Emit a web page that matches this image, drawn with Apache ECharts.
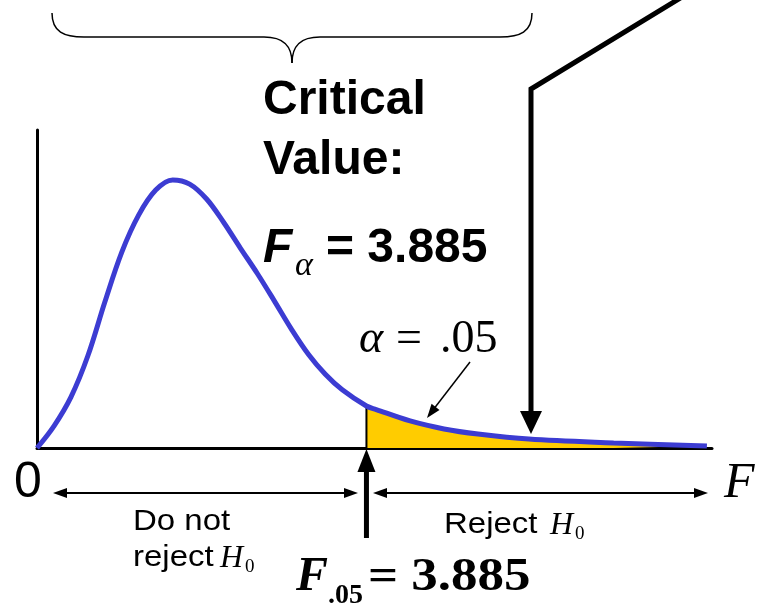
<!DOCTYPE html>
<html>
<head>
<meta charset="utf-8">
<script src="https://cdn.jsdelivr.net/npm/echarts@6/dist/echarts.min.js"></script>
<style>
  html, body { margin: 0; padding: 0; background: #fff; }
  #chart { width: 761px; height: 604px; }
</style>
</head>
<body>
<div id="chart"></div>
<script>
// curve: F value and relative height
const fValues = [0, 0.2, 0.4, 0.6, 0.8, 1.0, 1.2, 1.4, 1.6, 1.8, 2.0, 2.2, 2.4, 2.6, 2.8, 3.0, 3.2, 3.4, 3.6, 3.885, 4.0, 4.4, 4.8, 5.2, 5.8, 6.8, 7.9];
const density = [0, 0.069, 0.160, 0.290, 0.459, 0.616, 0.733, 0.811, 0.843, 0.830, 0.783, 0.710, 0.628, 0.548, 0.462, 0.374, 0.295, 0.232, 0.183, 0.132, 0.121, 0.085, 0.060, 0.044, 0.028, 0.016, 0.006];
const criticalF = 3.885;
const alphaText = '.05';

const SANS = '"Liberation Sans", Arial, sans-serif';
const SERIF = '"Liberation Serif", "Times New Roman", serif';
const BLUE = '#3c3cd2';
const GOLD = '#ffcc00';

const curve = fValues.map((f, i) => [f, density[i]]);
const tail = curve.filter(p => p[0] >= criticalF);
const critHeight = density[fValues.indexOf(criticalF)];

const chart = echarts.init(document.getElementById('chart'), null, { renderer: 'canvas' });

const hiddenAxis = {
  type: 'value',
  min: 0,
  axisLabel: { show: false },
  axisTick: { show: false },
  splitLine: { show: false },
  axisLine: { show: true, lineStyle: { color: '#000', width: 3 } },
};

chart.setOption({
  animation: false,
  backgroundColor: '#fff',
  grid: { left: 37, right: 49, top: 130, bottom: 156 },
  xAxis: Object.assign({}, hiddenAxis, { max: 7.96 }),
  yAxis: Object.assign({}, hiddenAxis, { max: 1 }),
  series: [
    {
      name: 'reject region',
      type: 'line',
      data: tail,
      smooth: 0.35,
      symbol: 'none',
      lineStyle: { width: 0 },
      areaStyle: { color: GOLD, opacity: 1 },
      z: 1,
    },
    {
      name: 'critical',
      type: 'line',
      data: [[criticalF, 0], [criticalF, critHeight]],
      symbol: 'none',
      lineStyle: { color: '#000', width: 2 },
      z: 2,
    },
    {
      name: 'F density',
      type: 'line',
      data: curve,
      smooth: 0.35,
      symbol: 'none',
      lineStyle: { color: BLUE, width: 5 },
      z: 3,
    },
  ],
});

// arrow head triangle pointing at (tx, ty), coming from (fx, fy)
function head(tx, ty, fx, fy, len, half) {
  const dx = tx - fx, dy = ty - fy;
  const d = Math.sqrt(dx * dx + dy * dy);
  const ux = dx / d, uy = dy / d;
  const bx = tx - ux * len, by = ty - uy * len;
  return {
    type: 'polygon', z: 100,
    shape: { points: [[tx, ty], [bx - uy * half, by + ux * half], [bx + uy * half, by - ux * half]] },
    style: { fill: '#000' },
  };
}
function line(x1, y1, x2, y2, w) {
  return { type: 'line', z: 100, shape: { x1, y1, x2, y2 }, style: { stroke: '#000', lineWidth: w } };
}
function txt(x, y, text, font, extra, align) {
  return Object.assign({
    type: 'text', z: 100, x, y,
    style: { text, font, fill: '#000', align: align || 'left', verticalAlign: 'middle' },
  }, extra || {});
}
function brace(x1, y1, x2, y2, c1x, c1y, c2x, c2y) {
  return {
    type: 'bezierCurve', z: 100,
    shape: { x1, y1, x2, y2, cpx1: c1x, cpy1: c1y, cpx2: c2x, cpy2: c2y },
    style: { stroke: '#000', lineWidth: 1.5, fill: null },
  };
}

const cx = chart.convertToPixel({ gridIndex: 0 }, [criticalF, 0])[0];

const g = [
  // brace
  brace(52, 13, 84, 37, 52, 32, 64, 37),
  line(84, 37, 264, 37, 1.5),
  brace(264, 37, 292, 63, 284, 37, 292, 46),
  brace(292, 63, 320, 37, 292, 46, 300, 37),
  line(320, 37, 500, 37, 1.5),
  brace(500, 37, 532, 13, 520, 37, 532, 32),

  // long pointer to the tail
  { type: 'polyline', z: 100, shape: { points: [[682, -3], [531, 89], [531, 414]] },
    style: { stroke: '#000', lineWidth: 5, fill: null, lineJoin: 'miter' } },
  head(531, 434, 531, 400, 23, 11),

  // Critical value text
  txt(263, 101, 'Critical', 'bold 48px ' + SANS),
  txt(263, 161, 'Value:', 'bold 48px ' + SANS),
  txt(263, 249, 'F', 'italic bold 48px ' + SANS),
  txt(295, 266, 'α', 'italic 34px ' + SERIF),
  txt(326, 249, '= 3.885', 'bold 48px ' + SANS),

  // alpha label and its arrow
  txt(359, 340, 'α', 'italic 46px ' + SERIF),
  txt(396, 340, '=', '46px ' + SERIF),
  txt(440, 340, alphaText, '46px ' + SERIF),
  line(470, 362, 433, 410, 1.5),
  head(427, 418, 470, 362, 14, 5),

  // 0 and F on the axis
  txt(28, 483, '0', '50px ' + SANS, null, 'center'),
  txt(724, 484, 'F', 'italic 50px ' + SERIF),

  // region arrows
  line(60, 493, 351, 493, 2),
  head(53, 493, 70, 493, 14, 5),
  head(358, 493, 340, 493, 14, 5),
  line(380, 493, 701, 493, 2),
  head(373, 493, 390, 493, 14, 5),
  head(708, 493, 690, 493, 14, 5),

  // critical value arrow
  line(cx, 538, cx, 468, 5),
  head(cx, 449, cx, 480, 23, 9),

  // region labels
  txt(133, 522, 'Do not', '30px ' + SANS, { scaleX: 1.1 }),
  txt(133, 558, 'reject', '30px ' + SANS, { scaleX: 1.1 }),
  txt(220, 559, 'H', 'italic 32px ' + SERIF),
  txt(245, 567, '0', '19px ' + SERIF),
  txt(444, 525, 'Reject', '30px ' + SANS, { scaleX: 1.1 }),
  txt(550, 526, 'H', 'italic 32px ' + SERIF),
  txt(575, 534, '0', '19px ' + SERIF),

  // bottom critical value
  txt(296, 578, 'F', 'italic bold 48px ' + SERIF),
  txt(328, 596, alphaText, 'bold 28px ' + SERIF),
  txt(368, 578, '= 3.885', 'bold 46px ' + SERIF, { scaleX: 1.15 }),
];

chart.setOption({ graphic: { elements: g } });
</script>
</body>
</html>
